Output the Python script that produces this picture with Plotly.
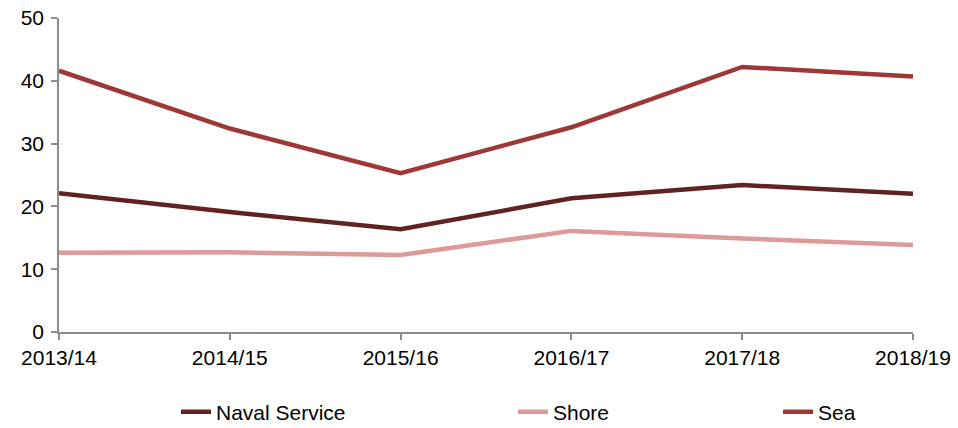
import plotly.graph_objects as go

categories = ["2013/14", "2014/15", "2015/16", "2016/17", "2017/18", "2018/19"]
naval_service = [22.1, 19.1, 16.35, 21.3, 23.4, 22.0]
shore = [12.6, 12.7, 12.25, 16.1, 14.9, 13.85]
sea = [41.6, 32.4, 25.3, 32.6, 42.2, 40.7]

x_idx = list(range(len(categories)))

fig = go.Figure()
series = [
    ("Naval Service", naval_service, "#622222", "legend"),
    ("Shore", shore, "#DE9999", "legend2"),
    ("Sea", sea, "#9E3836", "legend3"),
]
for name, vals, color, leg in series:
    fig.add_trace(go.Scatter(
        x=x_idx, y=vals, name=name, mode="lines", showlegend=True,
        line=dict(color=color, width=4.5), legend=leg,
    ))

legend_common = dict(orientation="h", yanchor="middle", y=-0.255, xanchor="left",
                     font=dict(family="Liberation Sans, Arial", size=21, color="#000"),
                     bgcolor="rgba(0,0,0,0)", tracegroupgap=0)
fig.update_layout(
    showlegend=True,
    legend=dict(x=0.137, **legend_common),
    legend2=dict(x=0.5316, **legend_common),
    legend3=dict(x=0.842, **legend_common),
)

fig.update_layout(
    width=958, height=428,
    margin=dict(l=59, r=45, t=18, b=96, autoexpand=False),
    plot_bgcolor="white", paper_bgcolor="white",
    font=dict(family="Liberation Sans, Arial", size=21, color="#000"),
    xaxis=dict(
        range=[0, 5], tickmode="array", tickvals=x_idx, ticktext=categories,
        showgrid=False, zeroline=False, showline=True, linecolor="#8c8c8c", linewidth=1.5,
        ticks="outside", ticklen=6, tickcolor="#8c8c8c", tickwidth=1.5,
        tickfont=dict(size=21), fixedrange=True, automargin=False,
    ),
    yaxis=dict(
        range=[0, 50], tickmode="array", tickvals=[0, 10, 20, 30, 40, 50],
        showgrid=False, zeroline=False, showline=True, linecolor="#8c8c8c", linewidth=1.5,
        ticks="outside", ticklen=6, tickcolor="#8c8c8c", tickwidth=1.5,
        tickfont=dict(size=21), fixedrange=True, ticklabelstandoff=3, automargin=False,
    ),
)

fig.write_html("out.html", config={"displayModeBar": False},
               post_script="document.body.style.margin='0';document.body.style.overflow='hidden';")
